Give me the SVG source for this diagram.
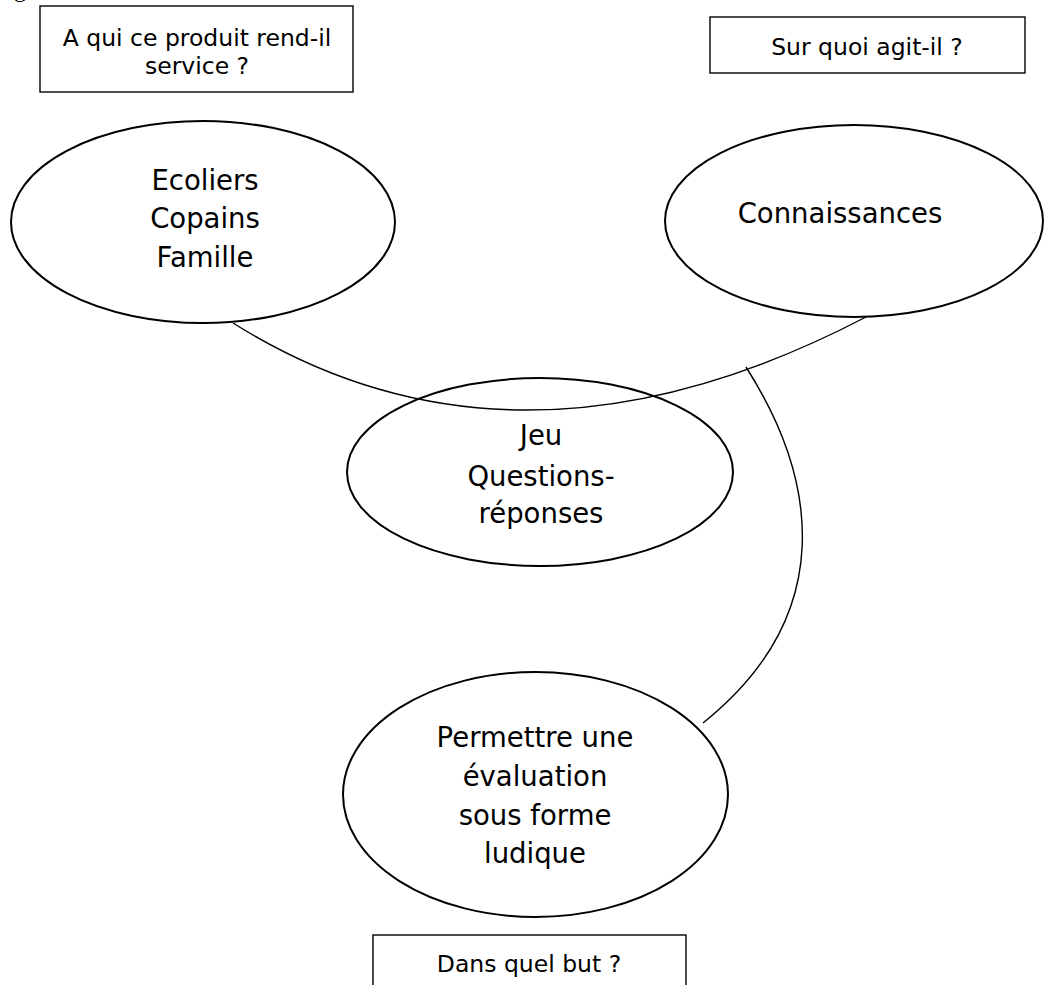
<svg xmlns="http://www.w3.org/2000/svg" width="1044" height="985" viewBox="0 0 1044 985">
  <style>
    .box { fill: #ffffff; stroke: #000000; stroke-width: 1.4; }
    .ell { fill: #ffffff; stroke: #000000; stroke-width: 2; }
    .conn { fill: none; stroke: #000000; stroke-width: 1.4; }
    .small { font-family: "DejaVu Sans", Verdana, sans-serif; font-size: 23.5px; fill: #000000; text-anchor: middle; }
    .big { font-family: "DejaVu Sans", Verdana, sans-serif; font-size: 27.5px; fill: #000000; text-anchor: middle; }
  </style>
  <rect x="0" y="0" width="1044" height="985" fill="#ffffff"/>
  <text x="14" y="-3" font-family="Liberation Serif, serif" font-size="24" fill="#000000">g</text>

  <g id="connectors">
    <path class="conn" d="M 233 323 Q 515 500 866 317"/>
    <path class="conn" d="M 746 367 C 818 480 838 615 703 723"/>
  </g>

  <g id="box-service">
    <rect class="box" x="40" y="6" width="313" height="86"/>
    <text class="small" x="197" y="46">A qui ce produit rend-il</text>
    <text class="small" x="197" y="74">service ?</text>
  </g>

  <g id="box-agit">
    <rect class="box" x="710" y="17" width="315" height="56"/>
    <text class="small" x="867" y="55">Sur quoi agit-il ?</text>
  </g>

  <g id="box-but">
    <rect class="box" x="373" y="935" width="313" height="70"/>
    <text class="small" x="529" y="972">Dans quel but ?</text>
  </g>

  <g id="node-ecoliers">
    <ellipse class="ell" cx="203" cy="222" rx="192" ry="101"/>
    <text class="big" x="205" y="190">Ecoliers</text>
    <text class="big" x="205" y="228">Copains</text>
    <text class="big" x="205" y="267">Famille</text>
  </g>

  <g id="node-connaissances">
    <ellipse class="ell" cx="854" cy="221" rx="189" ry="96"/>
    <text class="big" x="840" y="223">Connaissances</text>
  </g>

  <g id="node-jeu">
    <ellipse cx="540" cy="472" rx="193" ry="94" fill="none" stroke="#000" stroke-width="2"/>
    <text class="big" x="541" y="445">Jeu</text>
    <text class="big" x="541" y="486">Questions-</text>
    <text class="big" x="541" y="523">réponses</text>
  </g>

  <g id="node-permettre">
    <ellipse class="ell" cx="535.5" cy="794.5" rx="192.5" ry="122.5"/>
    <text class="big" x="535" y="747">Permettre une</text>
    <text class="big" x="535" y="786">évaluation</text>
    <text class="big" x="535" y="825">sous forme</text>
    <text class="big" x="535" y="863">ludique</text>
  </g>
</svg>
